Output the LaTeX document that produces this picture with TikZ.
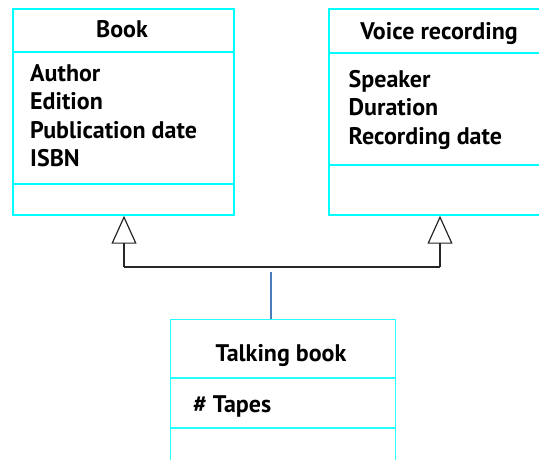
\documentclass[tikz,border=0pt]{standalone}
\usepackage{fontspec}
\setsansfont{PT Sans}
\usetikzlibrary{arrows.meta}

\definecolor{umlcyan}{HTML}{00FFFF}
\definecolor{linkblue}{HTML}{4A7EBB}

\begin{document}
\begin{tikzpicture}[x=1pt,y=-1pt,
    every node/.style={inner sep=0pt,font=\sffamily\bfseries\fontsize{24}{28}\selectfont,
      text height=16.8pt,text depth=0pt},
    classbox/.style={draw=umlcyan,line width=2.2pt,anchor=north west},
    thinbox/.style={draw=umlcyan!85!white,line width=1.3pt,anchor=north west},
    inherit/.style={draw=black!85,line width=1.2pt,
      -{Triangle[open,length=28pt,width=25pt,line width=1.2pt]}}]

    \useasboundingbox (0,0) rectangle (539,459);
    \clip (0,0) rectangle (539,459);

    %==================== Book ====================
    \node[classbox,minimum width=221pt,minimum height=206pt] (book) at (12,7.5) {};
    \draw[classbox] (12,52) -- (233,52);
    \draw[classbox] (12,184) -- (233,184);

    \node (booktitle) at (122,29) {Book};
    \foreach \t/\y in {Author/73,Edition/101.5,Publication date/130,ISBN/158.5} {
      \node[anchor=west] at (30,\y) {\t};
    }

    %==================== Voice recording ====================
    \node[classbox,minimum width=213pt,minimum height=206pt] (voice) at (327.5,7.5) {};
    \draw[classbox] (327.5,53) -- (541,53);
    \draw[classbox] (327.5,165) -- (541,165);

    \node (voicetitle) at (439,31.5) {Voice recording};
    \foreach \t/\y in {Speaker/79,Duration/107,Recording date/136} {
      \node[anchor=west] at (348.5,\y) {\t};
    }

    %==================== Talking book ====================
    \node[thinbox,minimum width=225pt,minimum height=170pt] (talk) at (170,319) {};
    \draw[thinbox] (170,378) -- (395,378);
    \draw[thinbox] (170,428) -- (395,428);

    \node (talktitle) at (281,353) {Talking book};
    \node[anchor=west] (tapes) at (193,404) {\# Tapes};

    %==================== Generalization ====================
    \coordinate (lk) at (124,267);
    \coordinate (rk) at (440,267);
    \coordinate (tip) at (271,272);

    \draw[inherit] (lk) -- (lk |- book.south);
    \draw[inherit] (rk) -- (rk |- voice.south);
    \draw[draw=black!85,line width=1.2pt] (lk) -- (rk);

    % Link down to the subclass
    \draw[linkblue,line width=1.4pt] (tip) -- (tip |- talk.north);

\end{tikzpicture}
\end{document}
